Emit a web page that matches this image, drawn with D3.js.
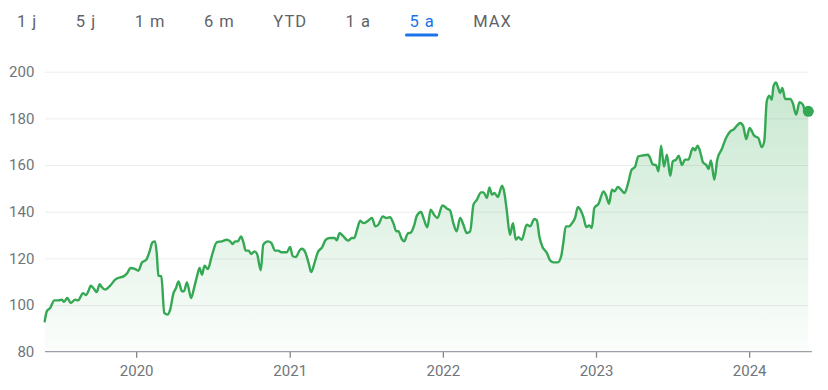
<!DOCTYPE html>
<html><head><meta charset="utf-8">
<script src="https://cdn.jsdelivr.net/npm/d3@7"></script>
<style>
html,body{margin:0;padding:0;background:#fff;}
svg{display:block;font-family:Roboto, Arial, sans-serif;}
</style></head><body>
<svg id="chart" width="828" height="390"></svg>
<script>
// ---------- data ----------
const rangeTabs = ["1 j", "5 j", "1 m", "6 m", "YTD", "1 a", "5 a", "MAX"];
const activeTab = "5 a";
const yTicks = [80, 100, 120, 140, 160, 180, 200];
const xTickYears = ["2020", "2021", "2022", "2023", "2024"];

const dates = [
"2019-05-28","2019-06-02","2019-06-10","2019-06-20","2019-06-30","2019-07-08","2019-07-13","2019-07-21","2019-07-29","2019-08-09","2019-08-16","2019-08-21","2019-08-27","2019-09-04","2019-09-09","2019-09-15","2019-09-21","2019-09-29","2019-10-06","2019-10-11","2019-10-19","2019-10-31","2019-11-12","2019-11-24","2019-12-02","2019-12-11","2019-12-18","2019-12-30",
"2020-01-06","2020-01-15","2020-01-25","2020-02-02","2020-02-09","2020-02-15","2020-02-19","2020-02-23","2020-03-01","2020-03-08","2020-03-16","2020-03-22","2020-03-30","2020-04-05","2020-04-11","2020-04-19","2020-04-24","2020-05-01","2020-05-11","2020-05-18","2020-05-25","2020-05-31","2020-06-06","2020-06-12","2020-06-20","2020-06-29","2020-07-11","2020-07-23","2020-08-04","2020-08-12","2020-08-18","2020-08-24","2020-08-30","2020-09-07","2020-09-13","2020-09-18","2020-09-25","2020-10-01","2020-10-09","2020-10-15","2020-10-24","2020-10-30","2020-11-10","2020-11-18","2020-11-27","2020-12-05","2020-12-12","2020-12-25",
"2021-01-02","2021-01-08","2021-01-16","2021-01-24","2021-01-30","2021-02-07","2021-02-15","2021-02-21","2021-03-01","2021-03-09","2021-03-19","2021-03-28","2021-04-07","2021-04-18","2021-04-23","2021-04-30","2021-05-09","2021-05-20","2021-05-29","2021-06-04","2021-06-10","2021-06-18","2021-06-26","2021-07-05","2021-07-16","2021-07-24","2021-07-31","2021-08-11","2021-08-19","2021-08-28","2021-09-05","2021-09-12","2021-09-17","2021-09-25","2021-10-01","2021-10-09","2021-10-17","2021-10-25","2021-10-31","2021-11-10","2021-11-17","2021-11-25","2021-12-03","2021-12-11","2021-12-19","2021-12-31",
"2022-01-11","2022-01-18","2022-01-26","2022-02-03","2022-02-11","2022-02-19","2022-02-27","2022-03-07","2022-03-15","2022-03-23","2022-04-02","2022-04-08","2022-04-16","2022-04-22","2022-04-28","2022-05-04","2022-05-12","2022-05-22","2022-05-27","2022-06-02","2022-06-10","2022-06-17","2022-06-24","2022-06-30","2022-07-08","2022-07-20","2022-07-28","2022-08-07","2022-08-13","2022-08-19","2022-08-26","2022-09-06","2022-09-14","2022-09-22","2022-10-02","2022-10-10","2022-10-15","2022-10-21","2022-10-29","2022-11-04","2022-11-12","2022-11-19","2022-11-24","2022-12-02","2022-12-09","2022-12-16","2022-12-22","2022-12-28",
"2023-01-07","2023-01-19","2023-01-25","2023-02-01","2023-02-08","2023-02-14","2023-02-22","2023-03-02","2023-03-10","2023-03-19","2023-03-27","2023-04-04","2023-04-12","2023-04-22","2023-05-05","2023-05-10","2023-05-16","2023-05-24","2023-05-30","2023-06-05","2023-06-12","2023-06-19","2023-06-27","2023-07-03","2023-07-11","2023-07-17","2023-07-25","2023-08-01","2023-08-09","2023-08-20","2023-08-25","2023-08-31","2023-09-06","2023-09-13","2023-09-21","2023-09-26","2023-10-02","2023-10-10","2023-10-17","2023-10-28","2023-11-07","2023-11-17","2023-11-26","2023-12-03","2023-12-11","2023-12-18","2023-12-25",
"2024-01-02","2024-01-13","2024-01-23","2024-01-31","2024-02-06","2024-02-12","2024-02-18","2024-02-24","2024-02-28","2024-03-05","2024-03-09","2024-03-15","2024-03-20","2024-03-27","2024-04-08","2024-04-14","2024-04-22","2024-04-30","2024-05-08","2024-05-14","2024-05-21"
];

const prices = [
93, 97.3, 98.7, 102, 102, 102.3, 101.4, 103, 100.9, 102.3, 102, 103.4, 105.1, 104.3, 105.9, 108.3, 107.3, 105.6, 108.9, 107.7, 106.6, 108.3, 110.9, 111.9, 112.3, 113.7, 115.9, 115.4,
114.7, 118.3, 119.4, 123, 126.9, 127.3, 122.3, 112.6, 112.3, 96.6, 95.9, 98, 105.1, 107.3, 110.1, 105.9, 105.9, 109.7, 103, 107.3, 112.3, 115.9, 113, 116.9, 115.4, 120.9, 126.9, 127.3, 128, 127.3, 126.1, 127.3, 127.3, 129.4, 126.6, 123.3, 123.3, 121.9, 123, 122, 114.9, 125.9, 127.3, 126.6, 123.3, 123.3, 122.6, 122.6,
124.9, 120.9, 120.6, 123.3, 124.1, 122.6, 118, 114.1, 118, 122.6, 124.7, 128, 128.7, 128.7, 127.7, 130.9, 129.4, 127.6, 128.7, 128.7, 132, 136.1, 135.1, 135.9, 137.3, 133.7, 134.4, 138, 137.3, 137.6, 135.1, 131.6, 131.6, 128.3, 127.3, 130.6, 131.1, 134.4, 138.3, 139.9, 136.6, 133.3, 140.9, 138.7, 137.3, 142.7,
141.3, 140.6, 135.1, 131.6, 137.3, 134.4, 130.9, 131.6, 143, 145.1, 148.3, 148.3, 145.9, 150.4, 147.3, 148, 146.3, 151.1, 148.7, 141, 130.1, 135.1, 128, 129.1, 128, 134.4, 133.7, 136.9, 136.3, 129.4, 125.1, 122.3, 119, 118.3, 118.3, 120.9, 126.6, 133.7, 133.7, 134.9, 137.3, 142, 141.1, 137.7, 133.4, 134.1, 133, 141.6,
143.4, 148.7, 146.9, 143.4, 149.4, 148.7, 150.6, 149.4, 148, 152.6, 158, 159.2, 163.7, 164.1, 164.4, 163, 160.3, 160, 157.3, 168.3, 159.4, 164.4, 155.4, 161.6, 162.3, 164, 160, 162.3, 162.3, 167.3, 166.3, 168.3, 165.9, 161.1, 160, 158.3, 162, 153.7, 162.3, 166.9, 171.6, 174.4, 175.4, 176.9, 178, 176.6, 171.1,
175.9, 172.6, 171.6, 167.7, 170.1, 187.3, 189.7, 188, 193.7, 195.4, 193.7, 190.9, 193, 188.3, 188.3, 186.6, 181.6, 186.9, 185.9, 183, 183
];

// ---------- layout ----------
const GREEN = "#34a853";
const GREY_TEXT = "#70757a";
const svg = d3.select("#chart");
const parse = d3.timeParse("%Y-%m-%d");
const series = dates.map((d, i) => ({date: parse(d), value: prices[i]}));

const plotLeft = 44.7, plotRight = 808.3, plotTop = 71.7, plotBottom = 351.7;
const gridLeft = 45, gridRight = 808, axisRight = 812;

const x = d3.scaleTime()
  .domain(d3.extent(series, d => d.date))
  .range([plotLeft, plotRight]);
const y = d3.scaleLinear()
  .domain([yTicks[0], yTicks[yTicks.length - 1]])
  .range([plotBottom, plotTop]);

// ---------- tabs ----------
const tabsG = svg.append("g").attr("class", "tabs");
let cursor = 17;
rangeTabs.forEach(label => {
  const isActive = label === activeTab;
  const t = tabsG.append("text")
    .attr("x", cursor)
    .attr("y", 26.5)
    .attr("font-size", 16.5)
    .attr("font-weight", 400)
    .attr("letter-spacing", 1)
    .attr("fill", isActive ? "#1a73e8" : "#5f6368")
    .text(label);
  const w = t.node().getComputedTextLength() - 1;
  if (isActive) {
    tabsG.append("line")
      .attr("x1", cursor - 3).attr("x2", cursor + w + 3)
      .attr("y1", 35).attr("y2", 35)
      .attr("stroke", "#1a73e8")
      .attr("stroke-width", 3)
      .attr("stroke-linecap", "round");
  }
  cursor += w + 39.5;
});

// ---------- gradient ----------
const defs = svg.append("defs");
const grad = defs.append("linearGradient")
  .attr("id", "areaFade")
  .attr("gradientUnits", "userSpaceOnUse")
  .attr("x1", 0).attr("x2", 0)
  .attr("y1", plotTop).attr("y2", plotBottom);
grad.append("stop").attr("offset", 0).attr("stop-color", GREEN).attr("stop-opacity", 0.28);
grad.append("stop").attr("offset", 1).attr("stop-color", GREEN).attr("stop-opacity", 0.02);

// ---------- y grid + labels ----------
const yAxis = d3.axisLeft(y)
  .tickValues(yTicks)
  .tickSize(0)
  .tickPadding(plotLeft - 34);
const yG = svg.append("g")
  .attr("transform", `translate(${gridLeft},0)`)
  .call(yAxis);
yG.select(".domain").remove();
yG.selectAll(".tick text")
  .attr("fill", GREY_TEXT)
  .attr("font-size", 15)
  .attr("font-family", "Roboto, Arial, sans-serif");
yG.selectAll(".tick line").remove();
yG.selectAll(".tick").filter(d => d !== yTicks[0])
  .append("line")
  .attr("x1", 0).attr("x2", gridRight - gridLeft)
  .attr("stroke", "#ececec")
  .attr("stroke-width", 1);

// ---------- area + line ----------
const area = d3.area()
  .x(d => x(d.date))
  .y0(plotBottom)
  .y1(d => y(d.value))
  .curve(d3.curveMonotoneX);
const line = d3.line()
  .x(d => x(d.date))
  .y(d => y(d.value))
  .curve(d3.curveMonotoneX);

svg.append("path")
  .datum(series)
  .attr("d", area)
  .attr("fill", "url(#areaFade)");

// ---------- x axis ----------
const xAxis = d3.axisBottom(x)
  .tickValues(xTickYears.map(yr => parse(yr + "-01-01")))
  .tickFormat(d3.timeFormat("%Y"))
  .tickSize(6)
  .tickPadding(8);
const xG = svg.append("g")
  .attr("transform", `translate(0,${plotBottom})`)
  .call(xAxis);
xG.select(".domain").remove();
xG.selectAll(".tick line").attr("stroke", "#80868b").attr("stroke-width", 1.3);
xG.selectAll(".tick text")
  .attr("fill", GREY_TEXT)
  .attr("font-size", 15)
  .attr("font-family", "Roboto, Arial, sans-serif");
svg.append("line")
  .attr("x1", gridLeft).attr("x2", axisRight)
  .attr("y1", plotBottom).attr("y2", plotBottom)
  .attr("stroke", "#9aa0a6")
  .attr("stroke-width", 1.2);

svg.append("path")
  .datum(series)
  .attr("d", line)
  .attr("fill", "none")
  .attr("stroke", GREEN)
  .attr("stroke-width", 2.4)
  .attr("stroke-linejoin", "round")
  .attr("stroke-linecap", "round");

const last = series[series.length - 1];
svg.append("circle")
  .attr("cx", x(last.date))
  .attr("cy", y(last.value))
  .attr("r", 5.5)
  .attr("fill", GREEN);
</script>
</body></html>
